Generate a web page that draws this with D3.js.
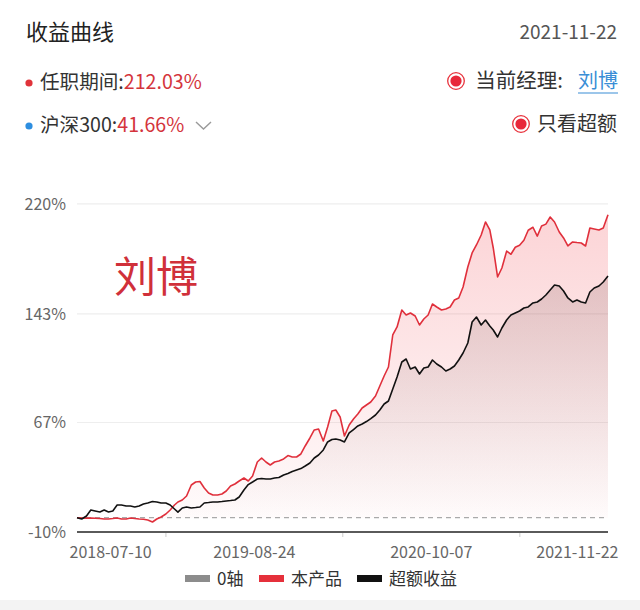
<!DOCTYPE html>
<html><head><meta charset="utf-8">
<script src="https://cdn.jsdelivr.net/npm/d3@7/dist/d3.min.js"></script>
<style>
body{margin:0;background:#fff;}
svg{display:block;font-family:"Noto Sans CJK SC","Noto Sans",sans-serif;}
</style></head>
<body>
<svg id="chart" width="640" height="610"></svg>
<script>
// ---- data ----
const dates = [
"2018-07-10","2018-07-21","2018-08-01","2018-08-11","2018-08-21","2018-09-01","2018-09-11","2018-09-21","2018-10-01","2018-10-11","2018-10-21","2018-11-01","2018-11-11","2018-11-21","2018-12-01","2018-12-11","2018-12-21",
"2019-01-01","2019-01-11","2019-01-21","2019-02-01","2019-02-11","2019-02-21","2019-03-01","2019-03-11","2019-03-21","2019-04-01","2019-04-11","2019-04-21","2019-05-01","2019-05-11","2019-05-21","2019-06-01","2019-06-11","2019-06-21","2019-07-01","2019-07-11","2019-07-21","2019-08-01","2019-08-11","2019-08-21","2019-09-01","2019-09-11","2019-09-21","2019-10-01","2019-10-11","2019-10-21","2019-11-01","2019-11-11","2019-11-21","2019-12-01","2019-12-11","2019-12-21",
"2020-01-01","2020-01-11","2020-01-21","2020-02-01","2020-02-11","2020-02-21","2020-03-01","2020-03-11","2020-03-21","2020-04-01","2020-04-11","2020-04-21","2020-05-01","2020-05-11","2020-05-21","2020-06-01","2020-06-11","2020-06-21","2020-07-01","2020-07-11","2020-07-21","2020-08-01","2020-08-11","2020-08-21","2020-09-01","2020-09-11","2020-09-21","2020-10-01","2020-10-11","2020-10-21","2020-11-01","2020-11-11","2020-11-21","2020-12-01","2020-12-11","2020-12-21",
"2021-01-01","2021-01-11","2021-01-21","2021-02-01","2021-02-11","2021-02-21","2021-03-01","2021-03-11","2021-03-21","2021-04-01","2021-04-11","2021-04-21","2021-05-01","2021-05-11","2021-05-21","2021-06-01","2021-06-11","2021-06-21","2021-07-01","2021-07-11","2021-07-21","2021-08-01","2021-08-11","2021-08-21","2021-09-01","2021-09-11","2021-09-21","2021-10-01","2021-10-11","2021-10-21","2021-11-01","2021-11-11","2021-11-22"
];
// 本产品 (cumulative return, %)
const productReturn = [
0,-0.2,-0.3,-0.2,-0.4,-0.6,-0.9,-0.9,-0.6,-0.2,-0.9,-0.9,-0.2,-0.6,-0.9,-1.1,-1.6,
-3.0,-0.9,0.5,2.6,5.4,8.9,11.0,12.4,15.2,22.9,25.0,25.3,20.8,17.3,15.9,15.9,16.6,18.7,22.2,23.6,25.7,27.8,25.7,29.2,39.0,41.8,39.0,36.9,39.0,39.7,41.1,43.5,42.5,42.5,44.6,50.2,
55.8,61.4,62.1,53.7,63.5,74.7,75.4,70.5,57.2,64.9,69.1,72.6,76.8,78.9,81.0,85.2,92.2,99.2,105.5,127.9,133.5,145.4,141.9,143.3,141.2,134.9,139.1,141.9,149.6,147.5,145.4,146.1,147.5,152.4,153.8,161.5,
175.5,185.3,190.9,197.9,207.0,201.4,188.8,168.5,174.8,186.6,184.4,189.3,190.7,194.2,201.2,203.3,197.1,204.2,205.5,210.5,207.0,200.0,195.8,190.2,193.0,192.6,192.3,190.2,202.8,202.1,201.4,202.8,212.03
];
// 超额收益 (excess return, %)
const excessReturn = [
0,-0.9,1.2,5.4,4.7,4.0,5.4,4.0,4.7,8.9,8.9,8.2,8.2,7.5,8.2,9.6,10.3,
11.3,11.0,10.3,10.3,8.9,6.1,3.9,6.8,7.5,6.8,7.1,7.5,10.3,10.6,11.0,11.0,11.3,11.7,12.0,12.4,14.5,19.4,23.2,25.0,27.1,27.4,27.1,27.1,27.8,28.1,29.9,30.9,32.3,33.4,34.4,36.2,
38.3,41.8,43.9,47.4,53.0,54.7,55.1,54.4,53.0,59.3,61.7,64.2,65.6,67.3,69.4,71.9,75.4,79.6,81.7,90.1,98.5,109.0,111.1,104.1,105.5,100.6,104.8,105.5,110.4,107.6,105.5,102.7,104.1,106.2,110.4,115.3,
122.3,137.0,140.5,134.9,138.4,134.2,131.4,126.5,132.8,138.4,141.9,143.3,144.7,146.8,147.5,150.3,151.0,153.1,155.9,159.4,162.9,162.2,158.7,153.8,151.0,152.4,151.0,150.3,158.0,160.8,162.2,165.0,169.2
];
const yTickValues = [-10, 67, 143, 220];
const xTickLabels = ["2018-07-10","2019-08-24","2020-10-07","2021-11-22"];
const legendItems = ["0轴","本产品","超额收益"];
const legendColors = ["#8c8c8c","#e5303b","#111111"];

// ---- drawing ----
(function(){
const svg = d3.select("#chart");
const parse = d3.timeParse("%Y-%m-%d");
const pts = dates.map((d,i)=>({date:parse(d), p:productReturn[i], e:excessReturn[i]}));

const pLeft = 77, pRight = 608, pTop = 203.4, pBottom = 532;
const x = d3.scaleTime().domain([parse("2018-07-10"), parse("2021-11-22")]).range([pLeft, pRight]);
const y = d3.scaleLinear().domain([-10, 220]).range([pBottom, pTop]);

// header
svg.append("text").attr("x",26).attr("y",40).attr("font-size",22).attr("fill","#222").text("收益曲线");
svg.append("text").attr("x",617).attr("y",39).attr("text-anchor","end").attr("font-size",19).attr("fill","#555").text("2021-11-22");

svg.append("circle").attr("cx",29).attr("cy",83).attr("r",3.6).attr("fill","#e0333a");
const t1 = svg.append("text").attr("x",40).attr("y",89).attr("font-size",19.6).attr("fill","#333");
t1.append("tspan").text("任职期间:");
t1.append("tspan").attr("fill","#d4343c").text("212.03%");

svg.append("circle").attr("cx",29).attr("cy",126).attr("r",3.6).attr("fill","#2d8ee0");
const t2 = svg.append("text").attr("x",40).attr("y",132).attr("font-size",19.6).attr("fill","#333");
t2.append("tspan").text("沪深300:");
t2.append("tspan").attr("fill","#d4343c").text("41.66%");
svg.append("path").attr("d","M196,122 L203.5,129 L211,122").attr("fill","none").attr("stroke","#9a9a9a").attr("stroke-width",1.4);

function radio(cx, cy){
  svg.append("circle").attr("cx",cx).attr("cy",cy).attr("r",8.3).attr("fill","none").attr("stroke","#e8323c").attr("stroke-width",1.3);
  svg.append("circle").attr("cx",cx).attr("cy",cy).attr("r",5.6).attr("fill","#e8283a");
}
radio(456,81);
svg.append("text").attr("x",563).attr("y",88).attr("text-anchor","end").attr("font-size",20.5).attr("fill","#333").text("当前经理:");
svg.append("text").attr("x",618).attr("y",88).attr("text-anchor","end").attr("font-size",20).attr("fill","#3a8ed6").text("刘博");
svg.append("line").attr("x1",578).attr("x2",618).attr("y1",93).attr("y2",93).attr("stroke","#3a8ed6").attr("stroke-width",1.2);
radio(521,124);
svg.append("text").attr("x",617).attr("y",131).attr("text-anchor","end").attr("font-size",20).attr("fill","#333").text("只看超额");

// gradients
const defs = svg.append("defs");
const g1 = defs.append("linearGradient").attr("id","gRed").attr("gradientUnits","userSpaceOnUse")
  .attr("x1",0).attr("x2",0).attr("y1",y(212)).attr("y2",y(0));
g1.append("stop").attr("offset","0%").attr("stop-color","#f03c46").attr("stop-opacity",0.22);
g1.append("stop").attr("offset","100%").attr("stop-color","#f03c46").attr("stop-opacity",0.02);
const g2 = defs.append("linearGradient").attr("id","gBlack").attr("gradientUnits","userSpaceOnUse")
  .attr("x1",0).attr("x2",0).attr("y1",y(170)).attr("y2",y(0));
g2.append("stop").attr("offset","0%").attr("stop-color","#5a2a2a").attr("stop-opacity",0.16);
g2.append("stop").attr("offset","100%").attr("stop-color","#5a2a2a").attr("stop-opacity",0.0);

// y axis with gridlines
const yAxis = d3.axisLeft(y).tickValues(yTickValues).tickFormat(d=>d+"%").tickSize(-(pRight-pLeft)).tickPadding(11);
const gy = svg.append("g").attr("transform",`translate(${pLeft},0)`).call(yAxis);
gy.select(".domain").remove();
gy.selectAll(".tick line").attr("stroke","#eeeeee").attr("stroke-width",1.2);
gy.selectAll(".tick text").attr("font-size",16).attr("fill","#666").attr("font-family","Noto Sans CJK SC, Noto Sans, sans-serif").attr("dy","0.36em");

// watermark
svg.append("text").attr("x",114).attr("y",292).attr("font-size",42).attr("fill","#d0303a").text("刘博");

// areas
const areaP = d3.area().x(d=>x(d.date)).y0(y(0)).y1(d=>y(d.p));
const areaE = d3.area().x(d=>x(d.date)).y0(y(0)).y1(d=>y(d.e));
svg.append("path").datum(pts).attr("d",areaP).attr("fill","url(#gRed)");
svg.append("path").datum(pts).attr("d",areaE).attr("fill","url(#gBlack)");

// zero line
svg.append("line").attr("x1",pLeft).attr("x2",pRight).attr("y1",y(0)).attr("y2",y(0))
  .attr("stroke","#aaaaaa").attr("stroke-width",1.2).attr("stroke-dasharray","5,4");

// lines
const lineP = d3.line().x(d=>x(d.date)).y(d=>y(d.p));
const lineE = d3.line().x(d=>x(d.date)).y(d=>y(d.e));
svg.append("path").datum(pts).attr("d",lineP).attr("fill","none").attr("stroke","#e0303c").attr("stroke-width",1.6).attr("stroke-linejoin","round");
svg.append("path").datum(pts).attr("d",lineE).attr("fill","none").attr("stroke","#111").attr("stroke-width",1.6).attr("stroke-linejoin","round");

// x axis
const labelDates = xTickLabels.map(parse);
const mids = d3.pairs(labelDates).map(([a,b])=>new Date((+a + +b)/2));
const xTicks = d3.axisBottom(x).tickValues(mids).tickFormat("").tickSize(5);
const gxt = svg.append("g").attr("transform",`translate(0,${pBottom})`).call(xTicks);
gxt.select(".domain").remove();
gxt.selectAll(".tick line").attr("stroke","#cccccc");
svg.append("line").attr("x1",pLeft).attr("x2",pRight).attr("y1",pBottom).attr("y2",pBottom).attr("stroke","#5a5a5a").attr("stroke-width",2);

const xAxis = d3.axisBottom(x).tickValues(labelDates).tickFormat(d3.timeFormat("%Y-%m-%d")).tickSize(0).tickPadding(15);
const gx = svg.append("g").attr("transform",`translate(0,${pBottom})`).call(xAxis);
gx.select(".domain").remove();
gx.selectAll(".tick text").attr("font-size",16).attr("fill","#666").attr("font-family","Noto Sans CJK SC, Noto Sans, sans-serif");
const nL = labelDates.length;
gx.selectAll(".tick text").each(function(d,i){
  if(i===0) d3.select(this).attr("text-anchor","start").attr("x",-8);
  if(i===nL-1) d3.select(this).attr("text-anchor","end").attr("x",10);
});

// legend
const legendX = [185, 259, 357];
const lg = svg.append("g");
legendItems.forEach((name,i)=>{
  lg.append("rect").attr("x",legendX[i]).attr("y",575).attr("width",25).attr("height",7).attr("fill",legendColors[i]);
  lg.append("text").attr("x",legendX[i]+32).attr("y",584.5).attr("font-size",17).attr("fill","#333").text(name);
});

// bottom band
svg.append("rect").attr("x",0).attr("y",600).attr("width",640).attr("height",10).attr("fill","#f3f3f3");
})();
</script>
</body></html>
